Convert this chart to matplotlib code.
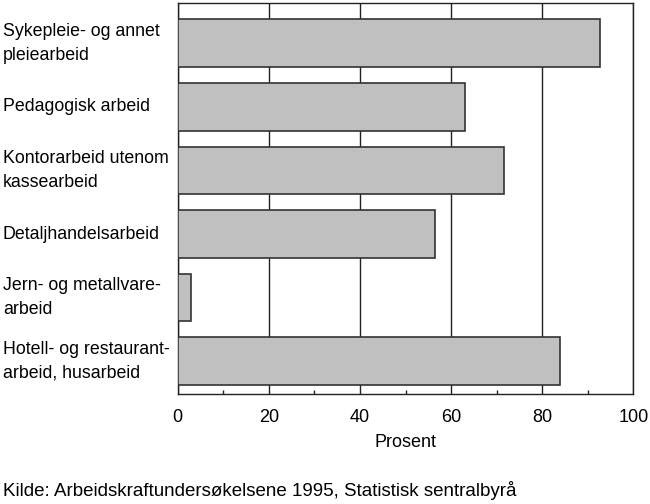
import matplotlib
matplotlib.use("Agg")
import matplotlib.pyplot as plt
from matplotlib.ticker import MultipleLocator

plt.rcParams['font.family'] = ['Liberation Sans', 'DejaVu Sans']

# data
kategorier = [
    "Sykepleie- og annet\npleiearbeid",
    "Pedagogisk arbeid",
    "Kontorarbeid utenom\nkassearbeid",
    "Detaljhandelsarbeid",
    "Jern- og metallvare-\narbeid",
    "Hotell- og restaurant-\narbeid, husarbeid",
]
prosent = [92.7, 63.0, 71.6, 56.5, 3.0, 84.0]
x_ticks = [0, 20, 40, 60, 80, 100]
kilde = "Kilde: Arbeidskraftundersøkelsene 1995, Statistisk sentralbyrå"

fig = plt.figure(figsize=(6.5, 5.04), dpi=100)
ax = fig.add_axes([0.2734, 0.2188, 0.7009, 0.7746])

ypos = list(range(len(kategorier)))
ax.barh(ypos, prosent, height=0.75, color="#c0c0c0",
        edgecolor="#333333", linewidth=1.2, zorder=3)

ax.set_xlim(0, 100)
ax.set_ylim(5.511, -0.629)
ax.set_xticks(x_ticks)
ax.xaxis.set_minor_locator(MultipleLocator(10))
ax.grid(axis="x", which="major", color="#222222", linewidth=1.0, zorder=1)
ax.tick_params(axis="x", which="major", length=0, pad=11, labelsize=13)
ax.tick_params(axis="x", which="minor", direction="in", length=3, width=1,
               color="#222222", top=False)

ax.set_yticks(ypos)
ax.set_yticklabels(kategorier, fontsize=12.8, linespacing=1.5)
ax.tick_params(axis="y", length=0, pad=125.8)
for lab in ax.get_yticklabels():
    lab.set_horizontalalignment("left")
    lab.set_verticalalignment("center")

for s in ax.spines.values():
    s.set_linewidth(1.0)
    s.set_color("#222222")

ax.set_xlabel("Prosent", fontsize=13, labelpad=6)

fig.text(3 / 650, 1 - 491 / 504, kilde, fontsize=13.5, ha="left", va="center")

fig.savefig("out.png", dpi=100)
